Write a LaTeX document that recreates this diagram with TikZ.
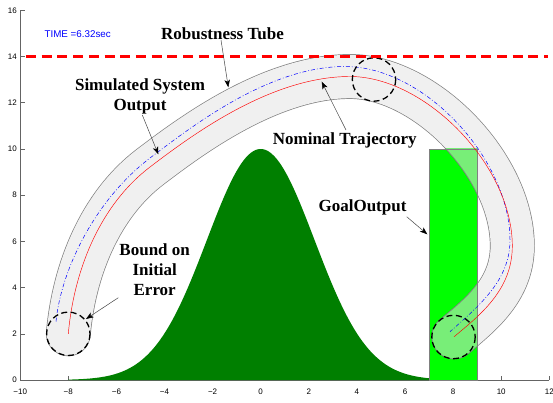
\documentclass[tikz,border=0pt]{standalone}
\usepackage{fontspec}
\setmainfont{Liberation Serif}
\newfontfamily\axfont{Liberation Sans}
\usetikzlibrary{arrows.meta}
\definecolor{gausscol}{RGB}{0,127,0}
\definecolor{goalcol}{RGB}{0,255,0}
\definecolor{tubefill}{RGB}{240,240,240}
\definecolor{tubeedge}{RGB}{128,128,128}
\definecolor{overlapcol}{RGB}{120,238,120}
\definecolor{axiscol}{RGB}{100,100,100}
\definecolor{arrcol}{RGB}{70,70,70}
\definecolor{timeblue}{RGB}{0,0,255}
\def\redpath{(68.3,333.8) .. controls (74,270) and (100,205) .. (150,167)
  .. controls (190,136.6) and (270,76.5) .. (350,76.5)
  .. controls (425,76.5) and (512.3,165) .. (512.3,246)
  .. controls (512.3,290) and (480,315) .. (454,336.8)}
\def\bluepath{(56,321.7) .. controls (61,270) and (95,200) .. (150,158)
  .. controls (195,124) and (270,66.5) .. (345,66.5)
  .. controls (425,66.5) and (510,160) .. (510,240)
  .. controls (510,280) and (480,305) .. (450,331.7)}
\begin{document}
\begin{tikzpicture}[x=1pt,y=-1pt,
  lbl/.style={font=\fontsize{17}{20}\selectfont\bfseries, align=center, inner sep=0pt},
  ticklbl/.style={font=\axfont\fontsize{8}{9}\selectfont, inner sep=0pt},
  timelbl/.style={font=\axfont\fontsize{9.8}{11}\selectfont, text=timeblue, inner sep=0pt},
  callout/.style={draw=arrcol, line width=0.5pt, -{Stealth[length=7.5pt,width=5.5pt,inset=2pt,color=black]}},
  tubeout/.style={line width=44.8pt, line cap=round, line join=round},
  tubein/.style={line width=43.4pt, line cap=round, line join=round},
  errcirc/.style={draw=black, line width=1.3pt, dash pattern=on 6pt off 3.5pt},
  nominal/.style={draw=red, line width=0.45pt},
  simulated/.style={draw=blue, line width=0.5pt, dash pattern=on 4pt off 2pt on 0.8pt off 2pt}]
\useasboundingbox (0,0) rectangle (553,403);
\fill[white] (0,0) rectangle (553,403);
% axes
\draw[axiscol, line width=0.6pt] (20.2,10.4) -- (20.2,380) -- (549.3,380);
\foreach \v in {0,2,...,16}{
  \draw[axiscol, line width=0.6pt] (20.2,{380-23.1*\v}) -- (24.7,{380-23.1*\v});
  \node[ticklbl, anchor=east] at (17,{380-23.1*\v}) {\v};
}
\foreach \v/\t in {-10/−10,-8/−8,-6/−6,-4/−4,-2/−2,0/0,2/2,4/4,6/6,8/8,10/10,12/12}{
  \draw[axiscol, line width=0.6pt] ({260.7+24.05*\v},380) -- ({260.7+24.05*\v},375.5);
  \node[ticklbl] at ({260.7+24.05*\v},391.7) {\t};
}
% data-space shapes
\begin{scope}[shift={(260.7pt,-380pt)}, x=24.05pt, y=23.1pt]
  \fill[gausscol] (-8,0) -- plot[domain=-8:9, samples=140, smooth] (\x,{10*exp(-1*(\x)*(\x)/10)}) -- (9,0) -- cycle;
  \fill[goalcol] (7,0) rectangle (9,10);
\end{scope}
% tube
\draw[tubeout, draw=tubeedge] \redpath;
\draw[tubein, draw=tubefill] \redpath;
\begin{scope}
  \clip (429.05,149) rectangle (477.15,380);
  \draw[tubeout, draw=tubeedge] \redpath;
  \draw[tubein, draw=overlapcol] \redpath;
\end{scope}
\draw[tubeedge, line width=0.8pt] (429.05,149) rectangle (477.15,380);
% trajectories
\draw[simulated] \bluepath;
\draw[nominal] \redpath;
% error circles
\draw[errcirc] (68.3,333.8) circle (21.7);
\draw[errcirc] (374,79.5) circle (21.7);
\draw[errcirc] (453.5,337) circle (21.7);
% robustness bound line
\draw[red, line width=3.2pt, dash pattern=on 10pt off 5.7pt] (26,56.6) -- (548,56.6);
% texts
\node[timelbl] (time) at (77.7,34.3) {TIME =6.32sec};
\node[lbl] (rt) at (222.5,33.3) {Robustness Tube};
\node[lbl] (sso) at (140,96) {Simulated System\\Output};
\node[lbl] (nt) at (344.7,140) {Nominal Trajectory};
\node[lbl] (go) at (362.5,207.3) {GoalOutput};
\node[lbl] (bie) at (154.7,269.7) {Bound on\\Initial\\Error};
% callout arrows
\coordinate (rtA) at (221,40);      \coordinate (rtB) at (228.3,87.3);
\coordinate (ssoA) at (142.3,115);  \coordinate (ssoB) at (158.3,154.3);
\coordinate (ntA) at (346,130);     \coordinate (ntB) at (321.7,81.7);
\coordinate (bieA) at (118.3,297.7);\coordinate (bieB) at (86,319);
\coordinate (goA) at (406.7,216.7); \coordinate (goB) at (427.3,234.3);
\draw[callout] (rtA) -- (rtB);
\draw[callout] (ssoA) -- (ssoB);
\draw[callout] (ntA) -- (ntB);
\draw[callout] (bieA) -- (bieB);
\draw[callout] (goA) -- (goB);
\end{tikzpicture}
\end{document}
